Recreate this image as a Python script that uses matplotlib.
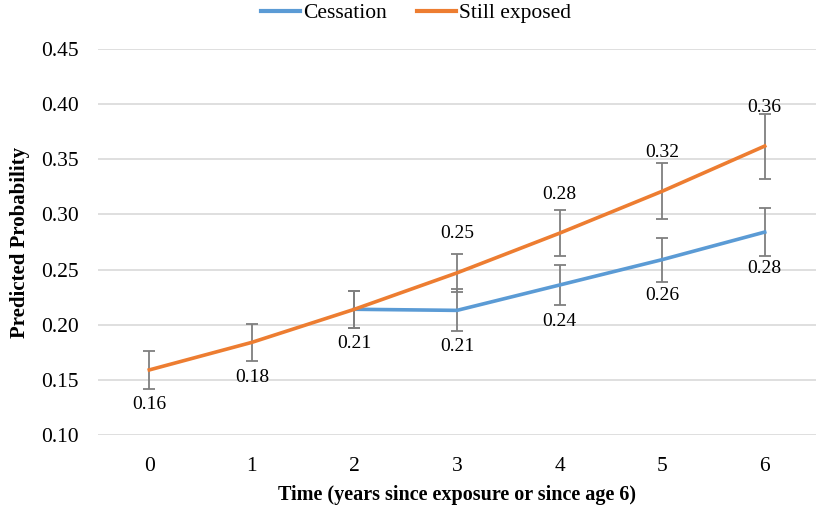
import matplotlib
matplotlib.use("Agg")
import matplotlib.pyplot as plt
from matplotlib.lines import Line2D
import numpy as np

# values
time = [0, 1, 2, 3, 4, 5, 6]
still_exposed = [0.159, 0.184, 0.214, 0.247, 0.283, 0.321, 0.362]
still_err = [0.017, 0.017, 0.017, 0.017, 0.021, 0.0255, 0.0295]
cessation = [np.nan, np.nan, 0.214, 0.213, 0.236, 0.259, 0.284]
cess_err = [np.nan, np.nan, 0.017, 0.019, 0.0185, 0.020, 0.0215]
yticks = [0.10, 0.15, 0.20, 0.25, 0.30, 0.35, 0.40, 0.45]

plt.rcParams['font.family'] = ['Liberation Serif', 'DejaVu Serif']

blue = '#5B9BD5'
orange = '#ED7D31'
err_col = '#7f7f7f'

fig = plt.figure(figsize=(8.25, 5.08), dpi=100)
ax = fig.add_axes([98 / 825, 1 - 435 / 508, (816 - 98) / 825, (435 - 49) / 508])

ax.errorbar(time, cessation, yerr=cess_err, color=blue, lw=2.6, ecolor=err_col,
            elinewidth=1.3, capsize=4, capthick=1.3, zorder=3)
ax.errorbar(time, still_exposed, yerr=still_err, color=orange, lw=2.6, ecolor=err_col,
            elinewidth=1.3, capsize=4, capthick=1.3, zorder=4)

# data labels
for i, (x, v) in enumerate(zip(time, still_exposed)):
    above = i >= 3
    ax.annotate(f'{v:.2f}', (x, v), xytext=(0, 28 if above else -25),
                textcoords='offset points', ha='center', va='center', fontsize=14)
for i, (x, v) in enumerate(zip(time, cessation)):
    if np.isnan(v) or i == 2:
        continue
    ax.annotate(f'{v:.2f}', (x, v), xytext=(0, -26), textcoords='offset points',
                ha='center', va='center', fontsize=14)

ax.set_xlim(-0.5, 6.5)
ax.set_ylim(0.10, 0.45)
ax.set_xticks(time)
ax.set_yticks(yticks)
ax.set_yticklabels([f'{t:.2f}' for t in yticks])
ax.tick_params(length=0, labelsize=15.5)
ax.tick_params(axis='y', pad=14)
ax.tick_params(axis='x', pad=16)
ax.grid(axis='y', color='#d9d9d9', lw=1.2)
ax.set_axisbelow(True)
for s in ax.spines.values():
    s.set_visible(False)

ax.set_ylabel('Predicted Probability', fontsize=15, fontweight='bold', labelpad=8)
ax.set_xlabel('Time (years since exposure or since age 6)', fontsize=14.5,
              fontweight='bold', labelpad=6)

handles = [Line2D([], [], color=blue, lw=3), Line2D([], [], color=orange, lw=3)]
fig.legend(handles, ['Cessation', 'Still exposed'], loc='upper center',
           bbox_to_anchor=(416 / 825, 1.032), ncol=2, frameon=False,
           fontsize=15.5, handlelength=1.8, handletextpad=0.15, columnspacing=1.4)

fig.savefig('out.png', dpi=100)
